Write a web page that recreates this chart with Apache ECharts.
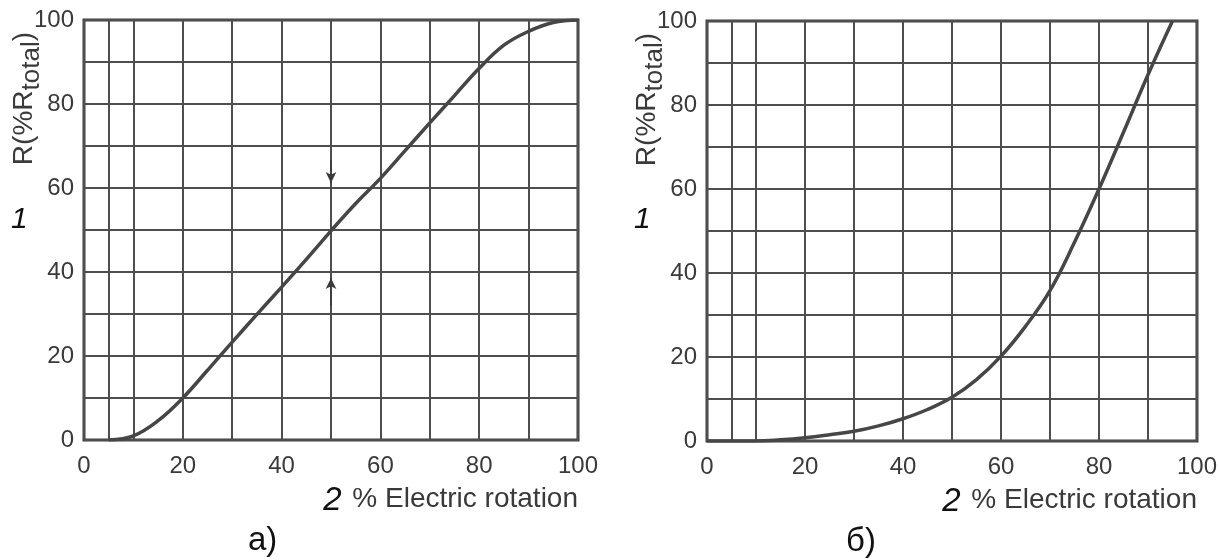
<!DOCTYPE html>
<html><head><meta charset="utf-8">
<script src="https://cdn.jsdelivr.net/npm/echarts@6/dist/echarts.min.js"></script>
<style>html,body{margin:0;padding:0;background:#fff}#c{width:1220px;height:560px}</style>
</head><body><div id="c"></div>
<script>
// ---- data ----
const rotationA   = [5, 10, 15, 20, 25, 30, 35, 40, 45, 50, 55, 60, 65, 70, 75, 80, 85, 90, 95, 100];
const resistanceA = [0, 1.0, 4.6, 10, 16.6, 23.3, 29.9, 36.4, 43, 49.8, 56.3, 62.3, 68.9, 75.5, 82, 88.5, 94, 97.3, 99.4, 100];
const rotationB   = [0, 5, 10, 15, 20, 25, 30, 35, 40, 45, 50, 55, 60, 65, 70, 75, 80, 85, 90, 95];
const resistanceB = [0, 0, 0, 0.3, 0.8, 1.5, 2.3, 3.6, 5.3, 7.5, 10.4, 14.6, 20.2, 27.3, 35.8, 47.3, 60, 73.5, 87.2, 100];
const xTickLabels = [0, 20, 40, 60, 80, 100];
const yTickLabels = [0, 20, 40, 60, 80, 100];
const extraGridX  = [5];
const arrowX      = 50;
const arrowDown   = [66.7, 61.2];   // from, to
const arrowUp     = [32.1, 38.6];   // from, to
const captions    = ['а)', 'б)'];
const xName = '% Electric rotation';
const yName = ['R(%R', 'total', ')'];

// ---- styles ----
const FONT = 'Liberation Sans, Arial, sans-serif';
const GRID_COLOR = '#4e4e4e';
const TEXT_COLOR = '#3a3a3a';
const CURVE_COLOR = '#464646';

const grids = [
  {left: 84, top: 20, width: 494, height: 420},
  {left: 707, top: 21, width: 495, height: 420}
];

function xAxis(i) {
  return {
    gridIndex: i, type: 'value', min: 0, max: 100, interval: 10,
    axisLine: {show: false}, axisTick: {show: false},
    splitLine: {show: true, lineStyle: {color: GRID_COLOR, width: 2}},
    axisLabel: {
      margin: 14, fontSize: 24, color: TEXT_COLOR, fontFamily: FONT,
      formatter: v => xTickLabels.includes(v) ? String(v) : ''
    },
    name: '{n|2}  {t|' + xName + '}',
    nameLocation: 'end', nameGap: 0, nameMoveOverlap: false,
    nameTextStyle: {
      align: 'right', verticalAlign: 'top', padding: [41, 0, 0, 0],
      rich: {
        n: {fontSize: 33, fontStyle: 'italic', color: '#111', fontFamily: FONT, lineHeight: 36, verticalAlign: 'bottom', padding: [0, 4, 0, 0]},
        t: {fontSize: 28, color: TEXT_COLOR, fontFamily: FONT, lineHeight: 36}
      }
    }
  };
}
function yAxis(i) {
  return {
    gridIndex: i, type: 'value', min: 0, max: 100, interval: 10,
    axisLine: {show: false}, axisTick: {show: false},
    splitLine: {show: true, lineStyle: {color: GRID_COLOR, width: 2}},
    axisLabel: {
      margin: 10, fontSize: 24, color: TEXT_COLOR, fontFamily: FONT,
      formatter: v => yTickLabels.includes(v) ? String(v) : ''
    },
    name: '{r|' + yName[0] + '}{s|' + yName[1] + '}{r|' + yName[2] + '}',
    nameLocation: 'end', nameRotate: 90, nameGap: -12, nameMoveOverlap: false,
    nameTextStyle: {
      align: 'right', verticalAlign: 'bottom', padding: [0, 0, 39, 0],
      rich: {
        r: {fontSize: 28, color: TEXT_COLOR, fontFamily: FONT, lineHeight: 42},
        s: {fontSize: 26, color: TEXT_COLOR, fontFamily: FONT, verticalAlign: 'bottom'}
      }
    }
  };
}

function curve(i, xs, ys, name) {
  return {
    name, type: 'line', xAxisIndex: i, yAxisIndex: i,
    data: xs.map((x, k) => [x, ys[k]]),
    showSymbol: false, smooth: 0.4,
    lineStyle: {color: CURVE_COLOR, width: 3.5},
    z: 5,
    markLine: {
      silent: true, symbol: 'none', label: {show: false},
      lineStyle: {color: GRID_COLOR, width: 2, type: 'solid'},
      data: extraGridX.map(x => ({xAxis: x}))
    }
  };
}

const series = [
  curve(0, rotationA, resistanceA, 'linear'),
  curve(1, rotationB, resistanceB, 'logarithmic'),
  {
    name: 'arrows', type: 'line', xAxisIndex: 0, yAxisIndex: 0, data: [],
    markLine: {
      silent: true, symbol: ['none', 'arrow'], symbolSize: [8, 11], label: {show: false},
      lineStyle: {color: '#3a3a3a', width: 1.5, type: 'solid'},
      data: [
        [{coord: [arrowX, arrowDown[0]]}, {coord: [arrowX, arrowDown[1]]}],
        [{coord: [arrowX, arrowUp[0]]}, {coord: [arrowX, arrowUp[1]]}]
      ]
    }
  }
];

const capStyle = {fontSize: 33, fontWeight: 'normal', color: '#111', fontFamily: FONT};
const option = {
  backgroundColor: '#fff',
  animation: false,
  title: [
    {text: captions[0], left: 248, top: 524, textStyle: capStyle, padding: 0},
    {text: captions[1], left: 846, top: 525, textStyle: capStyle, padding: 0}
  ],
  grid: grids.map(g => Object.assign({show: true, borderColor: '#3c3c3c', borderWidth: 3, backgroundColor: 'transparent'}, g)),
  xAxis: [xAxis(0), xAxis(1)],
  yAxis: [yAxis(0), yAxis(1)],
  graphic: [
    {type: 'text', left: 11, top: 205, style: {text: '1', fill: '#111', font: 'italic 30px ' + FONT}},
    {type: 'text', left: 634, top: 205, style: {text: '1', fill: '#111', font: 'italic 30px ' + FONT}}
  ],
  series
};

const chart = echarts.init(document.getElementById('c'), null, {renderer: 'canvas'});
chart.setOption(option);
</script>
</body></html>
